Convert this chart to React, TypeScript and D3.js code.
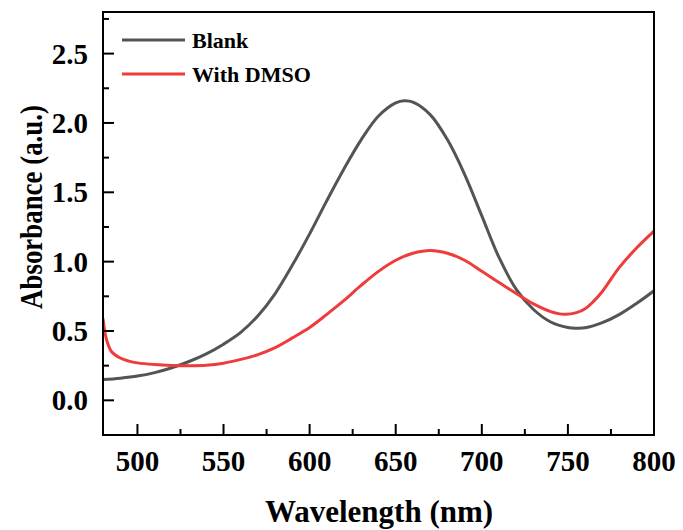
import React, { useEffect, useRef } from 'react';
import * as d3 from 'd3';

// wavelength (nm) for each series
const blankWl = [480, 490, 500, 510, 520, 530, 540, 550, 560, 570, 580, 590, 600, 610, 620, 630, 640, 650, 655, 660, 670, 680, 690, 700, 710, 720, 730, 740, 750, 755, 760, 770, 780, 790, 800];
const blankAbs = [0.15, 0.16, 0.175, 0.2, 0.235, 0.28, 0.335, 0.405, 0.49, 0.61, 0.77, 0.975, 1.2, 1.44, 1.67, 1.88, 2.05, 2.145, 2.16, 2.15, 2.06, 1.88, 1.63, 1.33, 1.03, 0.8, 0.655, 0.565, 0.525, 0.52, 0.523, 0.56, 0.62, 0.7, 0.79];

const dmsoWl = [480, 482, 485, 490, 495, 500, 510, 520, 530, 540, 550, 560, 570, 580, 590, 600, 610, 620, 630, 640, 650, 660, 670, 680, 690, 700, 710, 720, 730, 740, 748, 755, 760, 765, 770, 780, 790, 800];
const dmsoAbs = [0.59, 0.44, 0.35, 0.305, 0.283, 0.27, 0.258, 0.252, 0.25, 0.253, 0.268, 0.295, 0.33, 0.38, 0.45, 0.525, 0.62, 0.72, 0.83, 0.93, 1.01, 1.06, 1.08, 1.06, 1.01, 0.93, 0.85, 0.77, 0.695, 0.64, 0.62, 0.632, 0.66, 0.715, 0.785, 0.96, 1.1, 1.22];

const seriesNames = ['Blank', 'With DMSO'];
const seriesColors = ['#545454', '#ee3b3b'];

const xTicks = [500, 550, 600, 650, 700, 750, 800];
const xMinor = [525, 575, 625, 675, 725, 775];
const yTicks = [0, 0.5, 1.0, 1.5, 2.0, 2.5];
const yMinor = [-0.25, 0.25, 0.75, 1.25, 1.75, 2.25, 2.75];

const App = () => {
  const svgRef = useRef<SVGSVGElement>(null);
  const width = 683;
  const height = 530;

  useEffect(() => {
    const margin = { top: 12, right: 29, bottom: 95, left: 103 };
    const innerWidth = width - margin.left - margin.right;
    const innerHeight = height - margin.top - margin.bottom;
    const font = '"Liberation Serif", "Times New Roman", serif';

    const svg = d3.select(svgRef.current);
    svg.selectAll('*').remove();

    const g = svg.append('g')
      .attr('transform', `translate(${margin.left},${margin.top})`);

    const x = d3.scaleLinear().domain([480, 800]).range([0, innerWidth]);
    const y = d3.scaleLinear().domain([-0.25, 2.8]).range([innerHeight, 0]);

    const series = [
      blankWl.map((w, i) => ({ w, a: blankAbs[i] })),
      dmsoWl.map((w, i) => ({ w, a: dmsoAbs[i] })),
    ];

    const line = d3.line<{ w: number; a: number }>()
      .x(d => x(d.w))
      .y(d => y(d.a))
      .curve(d3.curveCatmullRom.alpha(0.5));

    g.append('defs').append('clipPath').attr('id', 'clip')
      .append('rect').attr('width', innerWidth).attr('height', innerHeight);

    series.forEach((s, i) => {
      g.append('path')
        .datum(s)
        .attr('clip-path', 'url(#clip)')
        .attr('fill', 'none')
        .attr('stroke', seriesColors[i])
        .attr('stroke-width', 3)
        .attr('stroke-linejoin', 'round')
        .attr('d', line);
    });

    // frame
    g.append('rect')
      .attr('width', innerWidth)
      .attr('height', innerHeight)
      .attr('fill', 'none')
      .attr('stroke', '#000')
      .attr('stroke-width', 2);

    // x ticks (inward)
    g.selectAll('.xmaj').data(xTicks).enter().append('line')
      .attr('x1', d => x(d)).attr('x2', d => x(d))
      .attr('y1', innerHeight).attr('y2', innerHeight - 11)
      .attr('stroke', '#000').attr('stroke-width', 2);
    g.selectAll('.xmin').data(xMinor).enter().append('line')
      .attr('x1', d => x(d)).attr('x2', d => x(d))
      .attr('y1', innerHeight).attr('y2', innerHeight - 6)
      .attr('stroke', '#000').attr('stroke-width', 2);
    g.selectAll('.xlab').data(xTicks).enter().append('text')
      .attr('x', d => x(d))
      .attr('y', innerHeight + 36)
      .attr('text-anchor', 'middle')
      .attr('font-family', font)
      .attr('font-weight', 'bold')
      .attr('font-size', 29)
      .text(d => d);

    // y ticks (inward)
    g.selectAll('.ymaj').data(yTicks).enter().append('line')
      .attr('x1', 0).attr('x2', 11)
      .attr('y1', d => y(d)).attr('y2', d => y(d))
      .attr('stroke', '#000').attr('stroke-width', 2);
    g.selectAll('.ymin').data(yMinor).enter().append('line')
      .attr('x1', 0).attr('x2', 6)
      .attr('y1', d => y(d)).attr('y2', d => y(d))
      .attr('stroke', '#000').attr('stroke-width', 2);
    g.selectAll('.ylab').data(yTicks).enter().append('text')
      .attr('x', -15)
      .attr('y', d => y(d) + 10)
      .attr('text-anchor', 'end')
      .attr('font-family', font)
      .attr('font-weight', 'bold')
      .attr('font-size', 29)
      .text(d => d3.format('.1f')(d));

    // axis titles
    svg.append('text')
      .attr('x', 379)
      .attr('y', 522)
      .attr('text-anchor', 'middle')
      .attr('font-family', font)
      .attr('font-weight', 'bold')
      .attr('font-size', 31)
      .text('Wavelength (nm)');

    svg.append('text')
      .attr('transform', 'translate(42,207) rotate(-90) scale(0.84,1)')
      .attr('text-anchor', 'middle')
      .attr('font-family', font)
      .attr('font-weight', 'bold')
      .attr('font-size', 32)
      .text('Absorbance (a.u.)');

    // legend
    const legend = svg.append('g');
    seriesNames.forEach((name, i) => {
      const ly = 40 + i * 34;
      legend.append('line')
        .attr('x1', 122).attr('x2', 185)
        .attr('y1', ly).attr('y2', ly)
        .attr('stroke', seriesColors[i])
        .attr('stroke-width', 3);
      legend.append('text')
        .attr('x', 192)
        .attr('y', ly + 8)
        .attr('font-family', font)
        .attr('font-weight', 'bold')
        .attr('font-size', 22)
        .text(name);
    });
  }, []);

  return (
    <svg
      ref={svgRef}
      width={width}
      height={height}
      style={{ position: 'absolute', left: 0, top: 0, background: '#fff' }}
    />
  );
};

export default App;
